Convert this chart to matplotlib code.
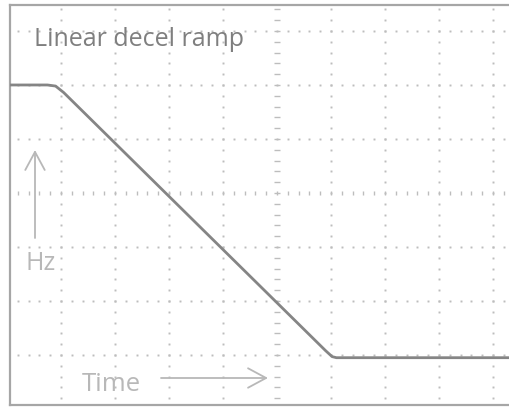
import numpy as np
import matplotlib
matplotlib.use('Agg')
import matplotlib.pyplot as plt

# trace, in divisions from screen centre
time_div = [-4.95, -4.25, -4.10, -3.95, 0.90, 1.02, 1.10, 4.35]
freq_div = [2.00, 2.00, 1.98, 1.86, -2.92, -3.03, -3.05, -3.05]

grid_x = [-4, -3, -2, -1, 0, 1, 2, 3, 4]
grid_y = [-3, -2, -1, 0, 1, 2, 3]

title_text = 'Linear decel ramp'
y_label = 'Hz'
x_label = 'Time'

W, H = 509, 408
fig = plt.figure(figsize=(W / 100, H / 100), dpi=100)
fig.patch.set_facecolor('white')

# screen: left edge px 10, top px 5, bottom px 405, right cropped at image edge
ax = fig.add_axes([10 / W, (H - 405) / H, (W - 10) / W, 400 / H])
ax.set_xlim(-4.944, 4.296)
ax.set_ylim(-3.926, 3.481)
ax.set_xticks([])
ax.set_yticks([])
for side in ['left', 'bottom', 'top']:
    ax.spines[side].set_color('#a6a6a6')
    ax.spines[side].set_linewidth(1.6)
ax.spines['right'].set_visible(False)

dot_col = '#bdbdbd'
sub = np.arange(-25, 26) * 0.2
ys = sub[(sub > -4) & (sub < 3.6)]
xs = sub[(sub > -5) & (sub < 4.4)]

# dotted graticule
for gx in grid_x:
    if gx == 0:
        ax.plot(np.full_like(ys, gx), ys, ls='none', marker='_', ms=4.5, mew=1.0, color=dot_col)
    else:
        ax.plot(np.full_like(ys, gx), ys, ls='none', marker='s', ms=1.4, mew=0, color=dot_col)
for gy in grid_y:
    if gy == 0:
        ax.plot(xs, np.full_like(xs, gy), ls='none', marker='|', ms=3.5, mew=1.0, color=dot_col)
    else:
        ax.plot(xs, np.full_like(xs, gy), ls='none', marker='s', ms=1.4, mew=0, color=dot_col)

# the trace
ax.plot(time_div, freq_div, color='#858585', lw=2.0, solid_joinstyle='round', zorder=5)

font = ['Open Sans', 'DejaVu Sans']
fig.text(34 / W, 1 - 46 / H, title_text, fontsize=18, color='#7f7f7f', family=font,
         va='baseline', ha='left')
fig.text(26 / W, 1 - 270 / H, y_label, fontsize=18, color='#b8b8b8', family=font,
         va='baseline', ha='left')
fig.text(82 / W, 1 - 391 / H, x_label, fontsize=18.5, color='#b8b8b8', family=font,
         va='baseline', ha='left')

# arrows
head = '->,head_length=1.3,head_width=0.7'
ax.annotate('', xy=(35 / W, 1 - 150 / H), xytext=(35 / W, 1 - 238 / H),
            xycoords='figure fraction', textcoords='figure fraction',
            arrowprops=dict(arrowstyle=head, color='#b8b8b8', lw=1.3,
                            shrinkA=0, shrinkB=0))
ax.annotate('', xy=(268 / W, 1 - 378 / H), xytext=(161 / W, 1 - 378 / H),
            xycoords='figure fraction', textcoords='figure fraction',
            arrowprops=dict(arrowstyle=head, color='#b8b8b8', lw=1.3,
                            shrinkA=0, shrinkB=0))

fig.savefig('out.png', dpi=100, facecolor='white')
